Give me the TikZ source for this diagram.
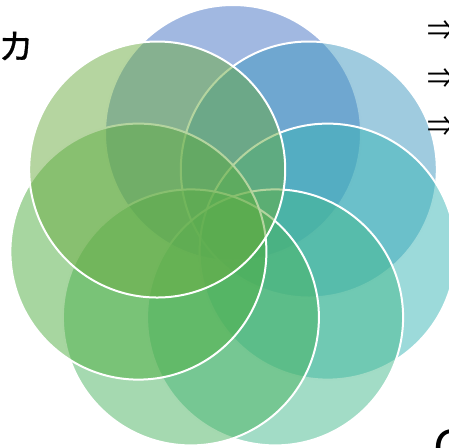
\documentclass[tikz,border=0pt]{standalone}
\usepackage{fontspec}
\setmainfont{Noto Sans CJK JP}
\usetikzlibrary{positioning}
\definecolor{petalA}{HTML}{4472C4}
\definecolor{petalB}{HTML}{3F97BF}
\definecolor{petalC}{HTML}{39B5B5}
\definecolor{petalD}{HTML}{45B98D}
\definecolor{petalE}{HTML}{4BB361}
\definecolor{petalF}{HTML}{4FAD41}
\definecolor{petalG}{HTML}{6BAB41}

\begin{document}
\begin{tikzpicture}[x=0.5pt,y=-0.5pt,
  petal/.style={circle,draw=white,line width=1pt,fill opacity=0.5,minimum size=128pt,inner sep=0pt},
  arrowtxt/.style={font=\fontsize{14}{16}\selectfont,inner sep=0pt,anchor=west}]
  \useasboundingbox (0,0) rectangle (449,447);
  \clip (0,0) rectangle (449,447);

  % Flower, clockwise from the top
  \node[petal,fill=petalA] (top) at (233,133) {};
  \node[petal,fill=petalB] (topright) at (308.8,169.5) {};
  \node[petal,fill=petalC] (right) at (327.6,251.6) {};
  \node[petal,fill=petalD] (lowright) at (275.1,317.4) {};
  \node[petal,fill=petalE] (lowleft) at (190.9,317.4) {};
  \node[petal,fill=petalF] (left) at (138.4,251.6) {};
  \node[petal,fill=petalG] (topleft) at (157.2,169.5) {};

  % Texts round it
  \node[font=\fontsize{17.5}{20}\selectfont,inner sep=0pt] (ka) at (16,46) {\addfontfeature{FakeBold=1}カ};
  \node[arrowtxt] (arr1) at (427,31) {⇒};
  \node[arrowtxt] (arr2) at (427,79) {⇒};
  \node[arrowtxt] (arr3) at (427,127) {⇒};
  \node[font=\fontsize{24}{26}\selectfont,inner sep=0pt,anchor=north west] (cc) at (433,429) {C};
\end{tikzpicture}
\end{document}
